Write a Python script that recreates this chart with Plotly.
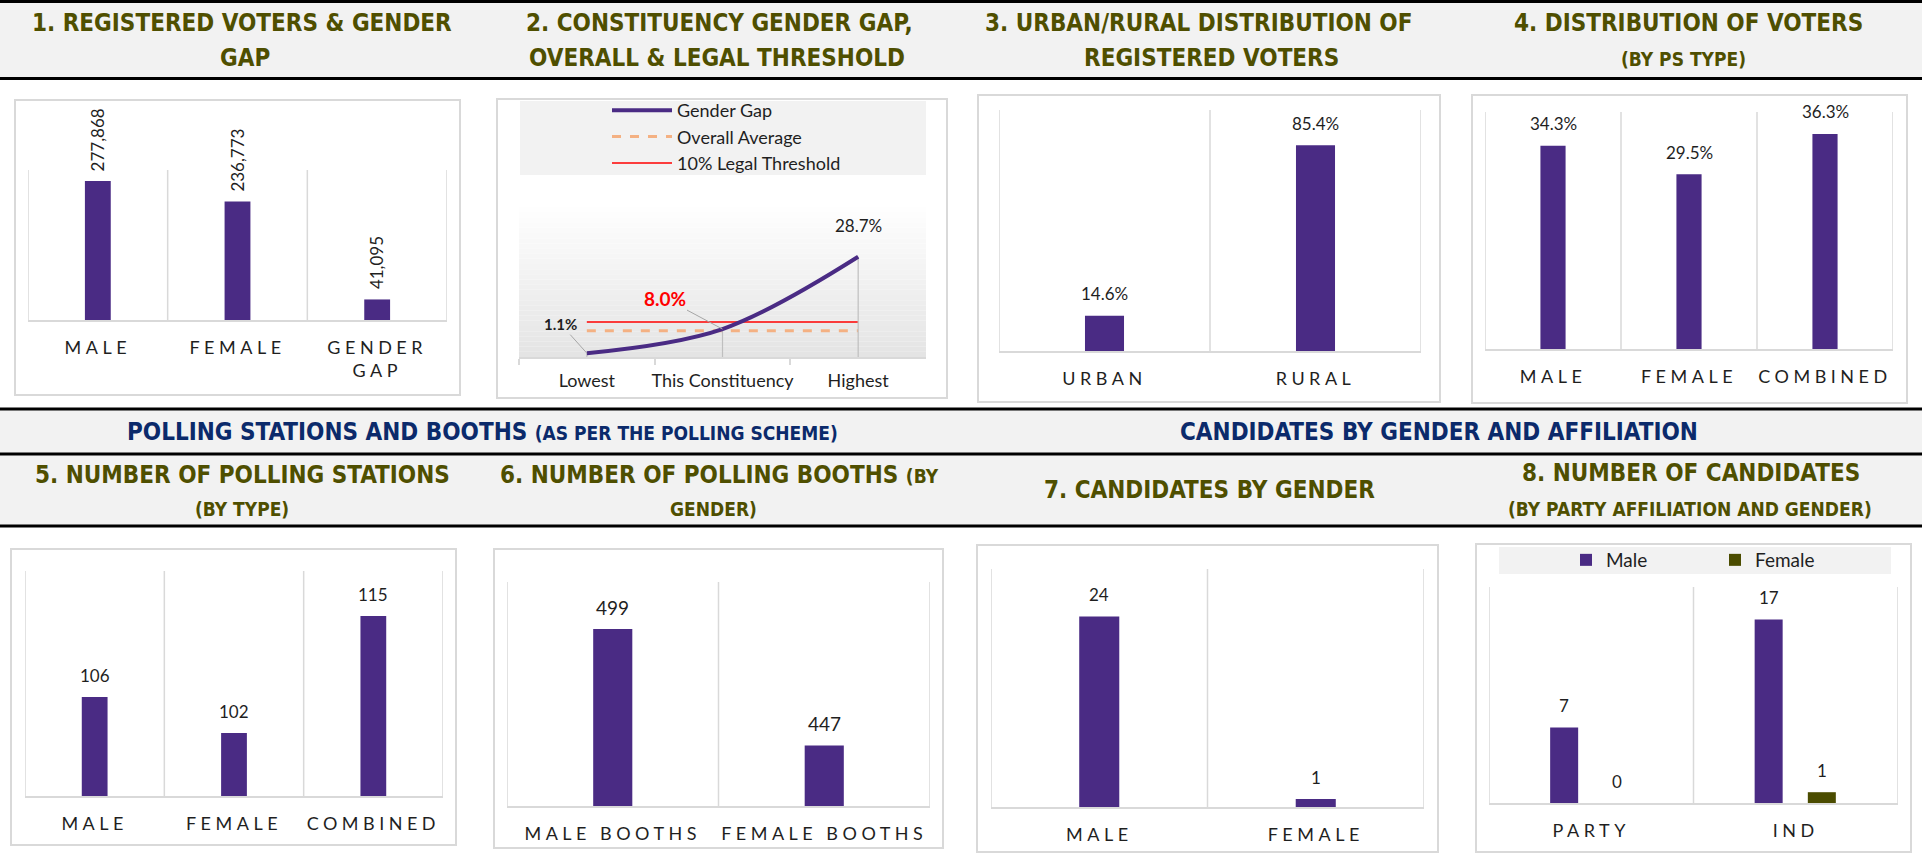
import plotly.graph_objects as go

W, H = 1922, 856

# ---------------- data ----------------
p1_cats = ["MALE", "FEMALE", "GENDER<br>GAP"]
p1_vals = [277868, 236773, 41095]

p2_cats = ["Lowest", "This Constituency", "Highest"]
p2_gap = [1.1, 8.0, 28.7]
p2_avg = 7.5
p2_threshold = 10.0

p3_cats = ["URBAN", "RURAL"]
p3_vals = [14.6, 85.4]

p4_cats = ["MALE", "FEMALE", "COMBINED"]
p4_vals = [34.3, 29.5, 36.3]

p5_cats = ["MALE", "FEMALE", "COMBINED"]
p5_vals = [106, 102, 115]

p6_cats = ["MALE BOOTHS", "FEMALE BOOTHS"]
p6_vals = [499, 447]

p7_cats = ["MALE", "FEMALE"]
p7_vals = [24, 1]

p8_cats = ["PARTY", "IND"]
p8_male = [7, 17]
p8_female = [0, 1]

# ---------------- style ----------------
PURPLE = "#4A2B84"
OLIVE_BAR = "#4B4C00"
TITLE_OLIVE = "#4F4F00"
NAVY = "#0B2A6B"
GRID = "#D9D9D9"
BAND = "#F2F2F2"
TXT = "#1F1F1F"
TFONT = "DejaVu Sans Condensed, Liberation Sans Narrow, Arial Narrow, sans-serif"
LFONT = "Lato, Open Sans, sans-serif"


def fx(x):
    return x / W


def fy(y):
    return 1 - y / H


fig = go.Figure()
shapes = []
annotations = []
layout_axes = {}


def sfx(n):
    return "" if n == 1 else str(n)


def set_axes(n, ncat, x0, x1, ytop, ybot, yr, p2=False, seps=True):
    s = sfx(n)
    xa = dict(domain=[fx(x0), fx(x1)], anchor=f"y{s}", type="category",
              range=[-0.5, ncat - 0.5], showline=True, linecolor=GRID, linewidth=2,
              showgrid=False, zeroline=False, tickangle=0,
              tickfont=dict(family=LFONT, size=18, color=TXT), fixedrange=True)
    if p2:
        xa.update(ticks="outside", tickson="boundaries", ticklen=6, tickcolor=GRID,
                  tickwidth=2, ticklabelstandoff=6,
                  tickfont=dict(family=LFONT, size=18, color=TXT))
    else:
        xa.update(ticks="", ticklabelstandoff=10)
    layout_axes[f"xaxis{s}"] = xa
    layout_axes[f"yaxis{s}"] = dict(domain=[fy(ybot), fy(ytop)], anchor=f"x{s}",
                                    range=yr, visible=False, fixedrange=True)
    if seps:
        for k in range(ncat + 1):
            shapes.append(dict(type="line", xref=f"x{s}", yref=f"y{s} domain",
                               x0=k - 0.5, x1=k - 0.5, y0=0, y1=1,
                               line=dict(color=GRID, width=1.5), layer="below"))


def box(x0, y0, x1, y1):
    shapes.append(dict(type="rect", xref="paper", yref="paper", x0=fx(x0), x1=fx(x1),
                       y0=fy(y1), y1=fy(y0), line=dict(color=GRID, width=2),
                       fillcolor="white", layer="below"))


def band(y0, y1):
    shapes.append(dict(type="rect", xref="paper", yref="paper", x0=0, x1=1,
                       y0=fy(y1), y1=fy(y0), line=dict(width=0), fillcolor=BAND,
                       layer="below"))


def hline(y, w=3):
    shapes.append(dict(type="line", xref="paper", yref="paper", x0=0, x1=1,
                       y0=fy(y), y1=fy(y), line=dict(color="black", width=w),
                       layer="above"))


def title(x, y, text, size=24, color=TITLE_OLIVE):
    annotations.append(dict(xref="paper", yref="paper", x=fx(x), y=fy(y), text=text,
                            showarrow=False, xanchor="center", yanchor="middle",
                            font=dict(family=TFONT, size=size, color=color, weight="bold")))


def bar(n, cats, vals, color=PURPLE, width=0.185, offset=None, name=None, legend=None):
    s = sfx(n)
    kw = dict(x=cats, y=vals, width=width, marker=dict(color=color, line=dict(width=0)),
              xaxis=f"x{s}", yaxis=f"y{s}", hoverinfo="skip",
              showlegend=legend is not None, name=name)
    if offset is not None:
        kw["offset"] = offset
    if legend is not None:
        kw["legend"] = legend
    fig.add_trace(go.Bar(**kw))


def labels(n, xs, vals, fmt, yshift=22, size=17, **kw):
    s = sfx(n)
    for x, v in zip(xs, vals):
        a = dict(x=x, y=v, xref=f"x{s}", yref=f"y{s}", text=fmt(v), showarrow=False,
                 yshift=yshift, font=dict(family=LFONT, size=size, color=TXT))
        a.update(kw)
        annotations.append(a)


# ---------------- header bands ----------------
band(0, 79)
band(408, 527)
hline(1.5)
hline(78.5)
hline(409)
hline(454)
hline(526)

SM = "<span style='font-size:19px'>"
title(242, 23, "1. REGISTERED VOTERS &amp; GENDER")
title(245, 58, "GAP")
title(719, 23, "2. CONSTITUENCY GENDER GAP,")
title(717, 58, "OVERALL &amp; LEGAL THRESHOLD")
title(1198, 23, "3. URBAN/RURAL DISTRIBUTION OF")
title(1211, 58, "REGISTERED VOTERS")
title(1688, 23, "4. DISTRIBUTION OF VOTERS")
title(1683, 59, SM + "(BY PS TYPE)</span>")

title(482, 432, "POLLING STATIONS AND BOOTHS " + SM + "(AS PER THE POLLING SCHEME)</span>", color=NAVY)
title(1439, 432, "CANDIDATES BY GENDER AND AFFILIATION", color=NAVY)

title(242, 475, "5. NUMBER OF POLLING STATIONS")
title(242, 509, SM + "(BY TYPE)</span>")
title(719, 475, "6. NUMBER OF POLLING BOOTHS " + SM + "(BY</span>")
title(713, 509, SM + "GENDER)</span>")
title(1209, 490, "7. CANDIDATES BY GENDER")
title(1691, 473, "8. NUMBER OF CANDIDATES")
title(1690, 509, SM + "(BY PARTY AFFILIATION AND GENDER)</span>")

# ---------------- panel boxes ----------------
box(15, 100, 460, 395)
box(497, 99, 947, 398)
box(978, 95, 1440, 402)
box(1472, 95, 1907, 403)
box(11, 549, 456, 845)
box(494, 549, 943, 848)
box(977, 545, 1438, 852)
box(1476, 544, 1911, 852)

# legend backgrounds
shapes.append(dict(type="rect", xref="paper", yref="paper", x0=fx(520), x1=fx(926),
                   y0=fy(175), y1=fy(101), line=dict(width=0), fillcolor=BAND, layer="below"))
shapes.append(dict(type="rect", xref="paper", yref="paper", x0=fx(1499), x1=fx(1891),
                   y0=fy(574), y1=fy(547), line=dict(width=0), fillcolor=BAND, layer="below"))

# panel 2 gradient background
NB = 30
for i in range(NB):
    t = i / (NB - 1)
    g = int(round(255 - t * (255 - 228)))
    shapes.append(dict(type="rect", xref="x2 domain", yref="y2 domain",
                       x0=0, x1=1, y0=1 - (i + 1) / NB, y1=1 - i / NB,
                       line=dict(width=0), fillcolor=f"rgb({g},{g},{g})", layer="below"))

# ---------------- axes ----------------
set_axes(1, 3, 28, 447, 170, 320, [0, 300000])
set_axes(2, 3, 519, 926, 202, 357, [0, 44.4], p2=True, seps=False)
set_axes(3, 2, 999, 1421, 110, 351, [0, 100])
set_axes(4, 3, 1485, 1893, 112, 349, [0, 40])
set_axes(5, 3, 25, 443, 571, 796, [95, 120])
set_axes(6, 2, 507, 930, 582, 806, [420, 520])
set_axes(7, 2, 991, 1424, 569, 807, [0, 30])
set_axes(8, 2, 1489, 1898, 587, 803, [0, 20])

# ---------------- panel 1 ----------------
bar(1, p1_cats, p1_vals)
labels(1, p1_cats, p1_vals, lambda v: f"{v:,}", yshift=8, textangle=-90, yanchor="bottom")

# ---------------- panel 2 ----------------
fig.add_trace(go.Scatter(x=p2_cats, y=[p2_avg] * len(p2_cats), mode="lines",
                         line=dict(color="#F4B183", width=3, dash="dash"),
                         name="Overall Average", xaxis="x2", yaxis="y2",
                         legend="legend", legendrank=2, hoverinfo="skip"))
fig.add_trace(go.Scatter(x=p2_cats, y=[p2_threshold] * len(p2_cats), mode="lines",
                         line=dict(color="#FF0000", width=1.5),
                         name="10% Legal Threshold", xaxis="x2", yaxis="y2",
                         legend="legend", legendrank=3, hoverinfo="skip"))
fig.add_trace(go.Scatter(x=p2_cats, y=p2_gap, mode="lines",
                         line=dict(color=PURPLE, width=4, shape="spline", smoothing=1),
                         error_y=dict(type="data", symmetric=False,
                                      array=[0] * len(p2_gap), arrayminus=p2_gap,
                                      width=0, color="#BFBFBF", thickness=1.2),
                         name="Gender Gap", xaxis="x2", yaxis="y2",
                         legend="legend", legendrank=1, hoverinfo="skip"))
annotations.append(dict(x=p2_cats[0], y=p2_gap[0], xref="x2", yref="y2",
                        text=f"{p2_gap[0]:.1f}%", showarrow=True, arrowhead=0,
                        arrowcolor="#A6A6A6", arrowwidth=1, ax=-26, ay=-29,
                        font=dict(family=LFONT, size=15, color=TXT, weight="bold")))
annotations.append(dict(x=p2_cats[1], y=p2_gap[1], xref="x2", yref="y2",
                        text=f"{p2_gap[1]:.1f}%", showarrow=True, arrowhead=0,
                        arrowcolor="#A6A6A6", arrowwidth=1, ax=-58, ay=-31,
                        font=dict(family=LFONT, size=19, color="#FF0000", weight="bold")))
annotations.append(dict(x=p2_cats[2], y=p2_gap[2], xref="x2", yref="y2",
                        text=f"{p2_gap[2]:.1f}%", showarrow=False, yshift=31,
                        font=dict(family=LFONT, size=17, color=TXT)))

# ---------------- panel 3 / 4 ----------------
bar(3, p3_cats, p3_vals)
labels(3, p3_cats, p3_vals, lambda v: f"{v:.1f}%")
bar(4, p4_cats, p4_vals)
labels(4, p4_cats, p4_vals, lambda v: f"{v:.1f}%")

# ---------------- panel 5 / 6 / 7 ----------------
bar(5, p5_cats, p5_vals)
labels(5, p5_cats, p5_vals, lambda v: f"{v}")
bar(6, p6_cats, p6_vals)
labels(6, p6_cats, p6_vals, lambda v: f"{v}", size=19)
bar(7, p7_cats, p7_vals)
labels(7, p7_cats, p7_vals, lambda v: f"{v}")

# ---------------- panel 8 ----------------
BW8 = 0.137
OFF_M = -0.201
OFF_F = 0.059
bar(8, p8_cats, p8_male, width=BW8, offset=OFF_M, name="Male", legend="legend2")
bar(8, p8_cats, p8_female, color=OLIVE_BAR, width=BW8, offset=OFF_F, name="Female",
    legend="legend2")
labels(8, [i + OFF_M + BW8 / 2 for i in range(len(p8_cats))], p8_male, lambda v: f"{v}")
labels(8, [i + OFF_F + BW8 / 2 for i in range(len(p8_cats))], p8_female, lambda v: f"{v}")

fig.update_layout(
    width=W, height=H, margin=dict(l=0, r=0, t=0, b=0),
    paper_bgcolor="white", plot_bgcolor="rgba(0,0,0,0)",
    shapes=shapes, annotations=annotations,
    barmode="overlay",
    legend=dict(x=fx(607), y=fy(92), xanchor="left", yanchor="top", orientation="v",
                bgcolor="rgba(0,0,0,0)", font=dict(family=LFONT, size=18, color=TXT),
                itemwidth=60, tracegroupgap=0),
    legend2=dict(x=fx(1566), y=fy(560), xanchor="left", yanchor="middle",
                 orientation="h", bgcolor="rgba(0,0,0,0)",
                 font=dict(family=LFONT, size=19, color=TXT),
                 entrywidth=104, entrywidthmode="pixels"),
    **layout_axes,
)

post = """
document.body.style.margin='0';
document.body.style.overflow='hidden';
['x','x3','x4','x5','x6','x7','x8'].forEach(function(id){
  document.querySelectorAll('g.'+id+'tick text').forEach(function(t){
    t.setAttribute('letter-spacing','4.5px');
  });
});
"""
fig.write_html("out.html", post_script=post, config={"displayModeBar": False})
